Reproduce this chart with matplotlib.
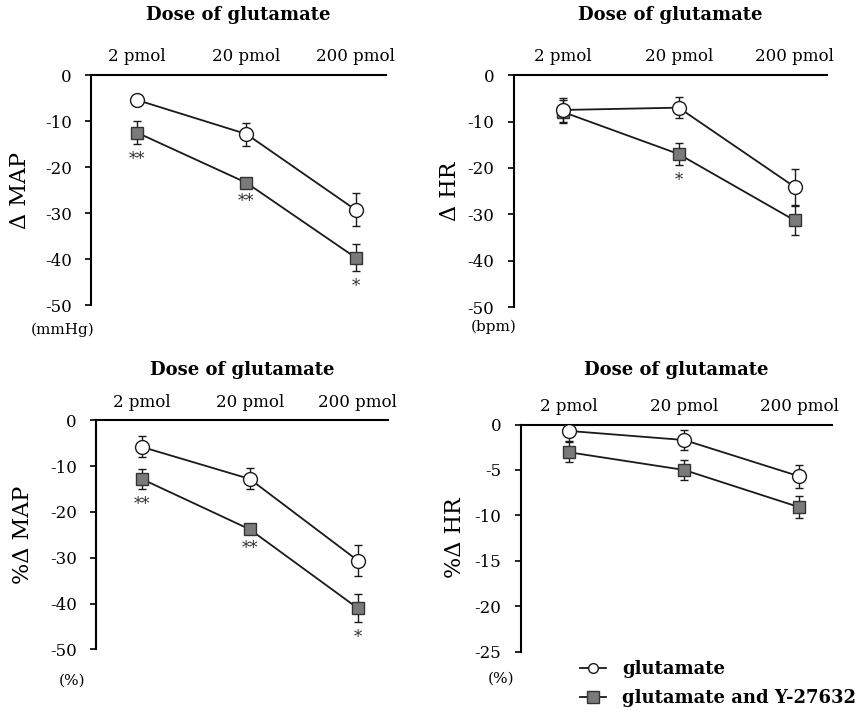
import matplotlib
matplotlib.use('Agg')
import matplotlib.pyplot as plt
from matplotlib.lines import Line2D

plt.rcParams['font.family'] = ['DejaVu Serif']

doses = ['2 pmol', '20 pmol', '200 pmol']
x = [0, 1, 2]

# change in mean arterial pressure (mmHg)
map_glu = [-5.4, -12.8, -29.3]
map_glu_err = [0.6, 2.5, 3.6]
map_y = [-12.5, -23.4, -39.7]
map_y_err = [2.5, 0.8, 2.9]
map_stars = ['**', '**', '*']

# change in heart rate (bpm)
hr_glu = [-7.5, -7.0, -24.1]
hr_glu_err = [2.5, 2.2, 3.8]
hr_y = [-7.9, -17.0, -31.3]
hr_y_err = [2.5, 2.4, 3.2]
hr_stars = ['', '*', '']

# percent change in MAP
pmap_glu = [-5.8, -12.8, -30.6]
pmap_glu_err = [2.3, 2.3, 3.3]
pmap_y = [-12.8, -23.8, -41.0]
pmap_y_err = [2.1, 0.8, 3.1]
pmap_stars = ['**', '**', '*']

# percent change in HR
phr_glu = [-0.7, -1.7, -5.7]
phr_glu_err = [1.1, 1.1, 1.25]
phr_y = [-3.05, -5.0, -9.1]
phr_y_err = [1.1, 1.1, 1.2]
phr_stars = ['', '', '']

fig = plt.figure(figsize=(8.68, 7.16), dpi=100)

panels = [
    # rect, data, labels, limits, title / label / unit offsets (axes fraction)
    dict(rect=[0.105, 0.574, 0.340, 0.321], glu=map_glu, glu_err=map_glu_err,
         yv=map_y, yv_err=map_y_err, stars=map_stars, ylabel='\u0394 MAP',
         unit='(mmHg)', ymin=-50, yticks=[0, -10, -20, -30, -40, -50],
         title_y=1.26, ylab_x=-0.24, unit_xy=(-0.098, -0.109)),
    dict(rect=[0.592, 0.571, 0.361, 0.324], glu=hr_glu, glu_err=hr_glu_err,
         yv=hr_y, yv_err=hr_y_err, stars=hr_stars, ylabel='\u0394 HR',
         unit='(bpm)', ymin=-50, yticks=[0, -10, -20, -30, -40, -50],
         title_y=1.26, ylab_x=-0.205, unit_xy=(-0.064, -0.086)),
    dict(rect=[0.111, 0.093, 0.336, 0.320], glu=pmap_glu, glu_err=pmap_glu_err,
         yv=pmap_y, yv_err=pmap_y_err, stars=pmap_stars, ylabel='%\u0394 MAP',
         unit='(%)', ymin=-50, yticks=[0, -10, -20, -30, -40, -50],
         title_y=1.22, ylab_x=-0.253, unit_xy=(-0.082, -0.136)),
    dict(rect=[0.600, 0.090, 0.358, 0.317], glu=phr_glu, glu_err=phr_glu_err,
         yv=phr_y, yv_err=phr_y_err, stars=phr_stars, ylabel='%\u0394 HR',
         unit='(%)', ymin=-25, yticks=[0, -5, -10, -15, -20, -25],
         title_y=1.24, ylab_x=-0.212, unit_xy=(-0.064, -0.119)),
]

for p in panels:
    ax = fig.add_axes(p['rect'])
    ax.errorbar(x, p['glu'], yerr=p['glu_err'], color='#1a1a1a', lw=1.3, capsize=3,
                elinewidth=1.0, marker='o', ms=10, mfc='white', mec='#1a1a1a',
                mew=1.0, zorder=4)
    ax.errorbar(x, p['yv'], yerr=p['yv_err'], color='#1a1a1a', lw=1.3, capsize=3,
                elinewidth=1.0, marker='s', ms=8, mfc='#7a7a7a', mec='#333333',
                mew=1.0, zorder=3)
    for xi, v, e, s in zip(x, p['yv'], p['yv_err'], p['stars']):
        if s:
            ax.annotate(s, (xi, v - e), xytext=(0, -5), textcoords='offset points',
                        ha='center', va='top', fontsize=12, color='#333333')
    ax.set_xlim(-0.42, 2.28)
    ax.set_ylim(p['ymin'], 0)
    ax.set_yticks(p['yticks'])
    ax.set_yticklabels([str(t) for t in p['yticks']], fontsize=12)
    ax.xaxis.tick_top()
    ax.set_xticks(x)
    ax.set_xticklabels(doses, fontsize=12)
    ax.tick_params(axis='x', length=0, pad=7)
    ax.tick_params(axis='y', length=4, width=1.2, direction='out', pad=10)
    for side in ['right', 'bottom']:
        ax.spines[side].set_visible(False)
    ax.spines['left'].set_linewidth(1.5)
    ax.spines['top'].set_linewidth(1.5)
    ax.text(0.5, p['title_y'], 'Dose of glutamate', transform=ax.transAxes,
            ha='center', va='center', fontsize=13, fontweight='bold')
    ax.text(p['ylab_x'], 0.5, p['ylabel'], transform=ax.transAxes, rotation=90,
            ha='center', va='center', fontsize=16)
    ax.text(p['unit_xy'][0], p['unit_xy'][1], p['unit'], transform=ax.transAxes,
            ha='center', va='center', fontsize=11)

handles = [
    Line2D([0], [0], color='#1a1a1a', lw=1.3, marker='o', ms=7, mfc='white',
           mec='#1a1a1a'),
    Line2D([0], [0], color='#1a1a1a', lw=1.3, marker='s', ms=8, mfc='#7a7a7a',
           mec='#333333'),
]
fig.legend(handles, ['glutamate', 'glutamate and Y-27632'], loc='upper left',
           bbox_to_anchor=(0.668, 0.078), frameon=False, handlelength=1.45,
           handletextpad=0.9, labelspacing=0.6, borderaxespad=0, borderpad=0,
           prop={'family': 'DejaVu Serif', 'weight': 'bold', 'size': 13})

fig.savefig('out.png', dpi=100)
